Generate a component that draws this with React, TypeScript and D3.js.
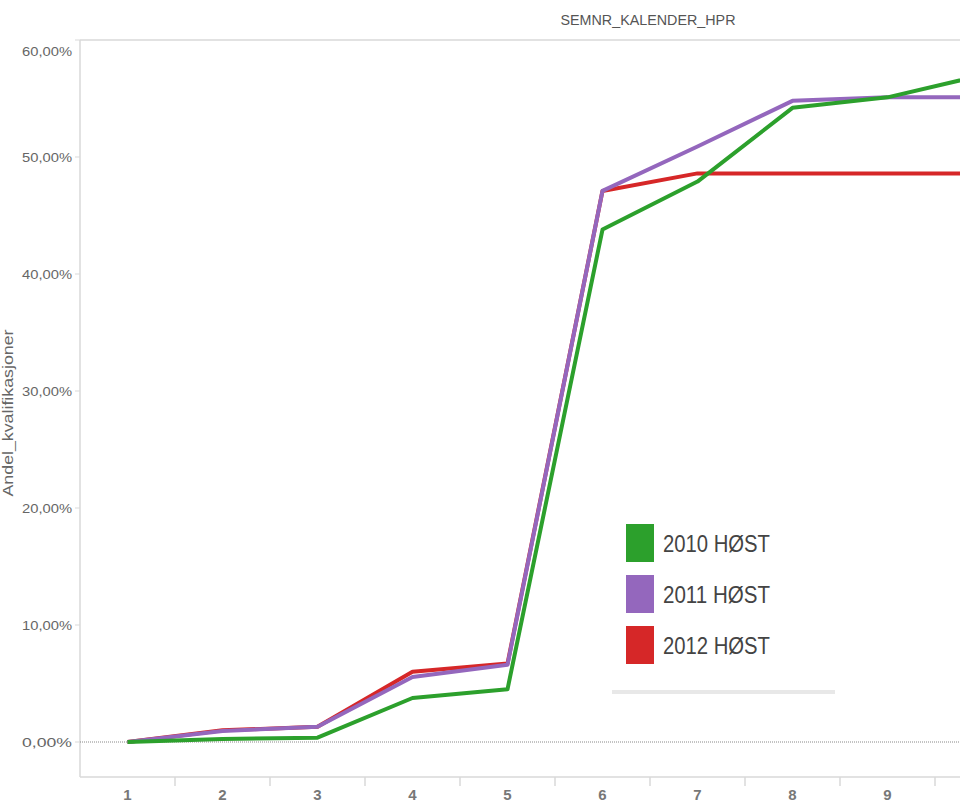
import React from 'react';
import * as d3 from 'd3';

// semester numbers along the x axis (10th is cut off by the frame)
const semesters = ['1', '2', '3', '4', '5', '6', '7', '8', '9', '10'];

// share of qualifications per cohort
const host2010 = [0, 0.0026, 0.0037, 0.0376, 0.045, 0.438, 0.479, 0.542, 0.551, 0.570];
const host2011 = [0, 0.0094, 0.013, 0.0556, 0.066, 0.471, 0.509, 0.548, 0.551, 0.551];
const host2012 = [0, 0.010, 0.013, 0.060, 0.067, 0.471, 0.486, 0.486, 0.486, 0.486];

const yTicks = [0, 0.1, 0.2, 0.3, 0.4, 0.5, 0.6];

const seriesList = [
  { name: '2012 HØST', color: '#d62728', values: host2012 },
  { name: '2011 HØST', color: '#9467bd', values: host2011 },
  { name: '2010 HØST', color: '#2ca02c', values: host2010 },
];
const legendOrder = ['2010 HØST', '2011 HØST', '2012 HØST'];

export default function App() {
  const width = 960;
  const height = 805;
  const left = 80;
  const top = 40;
  const axisY = 777;

  const x = d3.scaleBand<string>().domain(semesters).range([left, left + 95 * semesters.length]).padding(0);
  const y = d3.scaleLinear().domain([0, 0.6]).range([742, top]);
  const cx = (s: string) => (x(s) || 0) + x.bandwidth() / 2;

  const line = d3.line<number>()
    .x((_, i) => cx(semesters[i]))
    .y(d => y(d));

  const fmt = (v: number) => (v * 100).toFixed(2).replace('.', ',') + '%';
  const grey = '#d9d9d9';
  const font = 'Liberation Sans, Arial, sans-serif';

  const legendColor = (n: string) => seriesList.find(s => s.name === n)!.color;

  return (
    <svg width={width} height={height} style={{ position: 'absolute', left: 0, top: 0, background: '#fff' }} fontFamily={font}>
      {/* title */}
      <text x={648} y={25} textAnchor="middle" fontSize={15} fill="#555" textLength={175} lengthAdjust="spacingAndGlyphs">
        SEMNR_KALENDER_HPR
      </text>

      {/* frame */}
      <line x1={left} x2={width} y1={top} y2={top} stroke={grey} strokeWidth={1.5} />
      <line x1={left} x2={left} y1={top} y2={axisY} stroke={grey} strokeWidth={1.5} />
      <line x1={left} x2={width} y1={axisY} y2={axisY} stroke={grey} strokeWidth={1.5} />

      {/* zero line */}
      <line x1={left} x2={width} y1={y(0)} y2={y(0)} stroke="#888" strokeWidth={1} strokeDasharray="1,1" />

      {/* y axis */}
      {yTicks.map((t, i) => (
        <g key={t}>
          <line x1={left - 5} x2={left} y1={y(t)} y2={y(t)} stroke={grey} />
          <text
            x={left - 8}
            y={i === yTicks.length - 1 ? y(t) + 16 : y(t) + 5}
            textAnchor="end"
            fontSize={13}
            fill="#666"
            textLength={50}
            lengthAdjust="spacingAndGlyphs"
          >
            {fmt(t)}
          </text>
        </g>
      ))}
      <text
        transform={`translate(13,413) rotate(-90)`}
        textAnchor="middle"
        fontSize={14}
        fill="#666"
        textLength={167}
        lengthAdjust="spacingAndGlyphs"
      >
        Andel_kvalifikasjoner
      </text>

      {/* x axis */}
      {semesters.map(s => (
        <g key={s}>
          <line x1={(x(s) || 0) + x.bandwidth()} x2={(x(s) || 0) + x.bandwidth()} y1={axisY} y2={axisY + 9} stroke={grey} strokeWidth={1.5} />
          {cx(s) + 8 < width && (
            <text x={cx(s)} y={axisY + 23} textAnchor="middle" fontSize={15} fontWeight="bold" fill="#777">
              {s}
            </text>
          )}
        </g>
      ))}

      {/* lines */}
      {seriesList.map(s => (
        <path key={s.name} d={line(s.values) || ''} fill="none" stroke={s.color} strokeWidth={4} strokeLinejoin="round" />
      ))}

      {/* legend */}
      {legendOrder.map((n, i) => (
        <g key={n} transform={`translate(626,${524 + i * 51})`}>
          <rect width={28} height={38} fill={legendColor(n)} />
          <text x={37} y={28} fontSize={24} fill="#444" textLength={107} lengthAdjust="spacingAndGlyphs">
            {n}
          </text>
        </g>
      ))}
      <rect x={612} y={690} width={223} height={4} fill="#e8e8e8" />
    </svg>
  );
}
